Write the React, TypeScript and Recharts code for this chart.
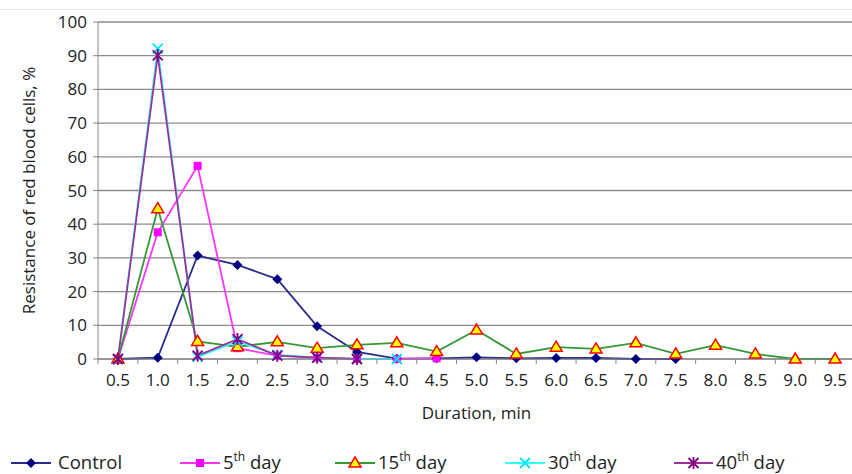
import { LineChart, Line, XAxis, YAxis, CartesianGrid } from 'recharts'

const durations = ['0.5', '1.0', '1.5', '2.0', '2.5', '3.0', '3.5', '4.0', '4.5', '5.0', '5.5', '6.0', '6.5', '7.0', '7.5', '8.0', '8.5', '9.0', '9.5']
const control = [0, 0.4, 30.7, 27.9, 23.7, 9.7, 2.1, 0.1, 0.2, 0.5, 0.2, 0.3, 0.3, 0, 0, null, null, null, null]
const day5 = [0, 37.6, 57.3, 3.2, 1, 0.4, 0, 0, 0.2, null, null, null, null, null, null, null, null, null, null]
const day15 = [0, 44.6, 5.2, 3.6, 5.1, 3.2, 4.2, 4.8, 2.2, 8.6, 1.5, 3.5, 3.0, 4.8, 1.5, 4.1, 1.5, 0, 0]
const day30 = [0, 92.1, 0.6, 5.2, 1.2, 0.4, 0, 0, null, null, null, null, null, null, null, null, null, null, null]
const day40 = [0, 90.1, 1, 5.9, 1, 0.4, 0, null, null, null, null, null, null, null, null, null, null, null, null]
const yTicks = [0, 10, 20, 30, 40, 50, 60, 70, 80, 90, 100]

const data = durations.map((d, i) => ({
  d,
  control: control[i],
  day5: day5[i],
  day15: day15[i],
  day30: day30[i],
  day40: day40[i],
}))

const FONT = '"Open Sans", "Noto Sans", sans-serif'
const W = 855
const H = 474
const YW = 98
const BAND = (W - YW) / durations.length

type Shape = 'diamond' | 'square' | 'triangle' | 'x' | 'star'

function Marker({ shape, cx, cy, color }: { shape: Shape; cx: number; cy: number; color: string }) {
  if (shape === 'diamond')
    return <path d={`M${cx},${cy - 5}L${cx + 5},${cy}L${cx},${cy + 5}L${cx - 5},${cy}Z`} fill={color} />
  if (shape === 'square')
    return <rect x={cx - 4} y={cy - 4} width={8} height={8} fill={color} />
  if (shape === 'triangle')
    return <path d={`M${cx},${cy - 6}L${cx + 6},${cy + 4}L${cx - 6},${cy + 4}Z`} fill="#ffff00" stroke="#ff0000" strokeWidth={1.5} />
  if (shape === 'x')
    return (
      <path d={`M${cx - 5},${cy - 5}L${cx + 5},${cy + 5}M${cx - 5},${cy + 5}L${cx + 5},${cy - 5}`} stroke={color} strokeWidth={1.8} />
    )
  return (
    <path
      d={`M${cx - 5},${cy - 5}L${cx + 5},${cy + 5}M${cx - 5},${cy + 5}L${cx + 5},${cy - 5}M${cx},${cy - 6}L${cx},${cy + 6}`}
      stroke={color}
      strokeWidth={1.8}
    />
  )
}

const dotFor = (shape: Shape, color: string) => (props: any) => {
  const { cx, cy, value, index } = props
  if (value == null || cy == null || isNaN(cy)) return <g key={index} />
  return (
    <g key={index}>
      <Marker shape={shape} cx={cx} cy={cy} color={color} />
    </g>
  )
}

const series = [
  { key: 'control', name: 'Control', sup: '', line: '#2b2b8c', mark: '#000080', shape: 'diamond' as Shape },
  { key: 'day5', name: '5', sup: 'th', line: '#ff33ff', mark: '#ff00ff', shape: 'square' as Shape },
  { key: 'day15', name: '15', sup: 'th', line: '#339933', mark: '#339933', shape: 'triangle' as Shape },
  { key: 'day30', name: '30', sup: 'th', line: '#33ffff', mark: '#00e5ff', shape: 'x' as Shape },
  { key: 'day40', name: '40', sup: 'th', line: '#993399', mark: '#800080', shape: 'star' as Shape },
]

// legend line start, line end, text start
const legendPos = [
  [11, 51, 58],
  [180, 220, 223],
  [335, 375, 378],
  [505, 545, 548],
  [674, 713, 716],
]

function XTick({ x, y, payload, index }: any) {
  const last = index === durations.length - 1
  return (
    <g>
      <line x1={x - BAND / 2} y1={y - 8} x2={x - BAND / 2} y2={y - 3} stroke="#888" />
      {last && <line x1={x + BAND / 2} y1={y - 8} x2={x + BAND / 2} y2={y - 3} stroke="#888" />}
      <text x={x} y={y + 19} textAnchor="middle" fontSize={17} fill="#222" fontFamily={FONT}>
        {payload.value}
      </text>
    </g>
  )
}

export default function App() {
  return (
    <div style={{ position: 'absolute', left: 0, top: 0, width: 852, height: H, overflow: 'hidden', background: '#fff', fontFamily: FONT }}>
      <div style={{ position: 'absolute', left: 0, top: 9, width: 852, height: 1, background: '#e6e6e6' }} />
      <LineChart width={W} height={H} data={data} margin={{ top: 22, right: 0, bottom: 55, left: 0 }}>
        <CartesianGrid vertical={false} stroke="#8a8a8a" strokeWidth={1.3} />
        <XAxis
          dataKey="d"
          height={60}
          stroke="#888"
          tickLine={false}
          tick={<XTick />}
          interval={0}
          padding={{ left: BAND / 2, right: BAND / 2 }}
          label={{ value: 'Duration, min', position: 'insideBottom', offset: 0, dy: 0, fontSize: 17, fill: '#222', fontFamily: FONT }}
        />
        <YAxis
          width={YW}
          domain={[0, 100]}
          ticks={yTicks}
          interval={0}
          stroke="#888"
          tickSize={5}
          tickMargin={6}
          tick={{ fontSize: 17, fill: '#222', fontFamily: FONT }}
          label={{ value: 'Resistance of red blood cells, %', angle: -90, position: 'insideLeft', dx: 24, fontSize: 17, fill: '#222', fontFamily: FONT, style: { textAnchor: 'middle' } }}
        />
        {series.map((s) => (
          <Line
            key={s.key}
            dataKey={s.key}
            stroke={s.line}
            strokeWidth={1.8}
            dot={dotFor(s.shape, s.mark)}
            activeDot={false}
            isAnimationActive={false}
            connectNulls={false}
          />
        ))}
      </LineChart>
      {series.map((s, i) => {
        const [l0, l1, t0] = legendPos[i]
        return (
          <div key={s.key} style={{ position: 'absolute', top: 450, left: l0, height: 24 }}>
            <svg width={l1 - l0} height={24} style={{ position: 'absolute', left: 0, top: 0 }}>
              <line x1={0} y1={13} x2={l1 - l0} y2={13} stroke={s.line} strokeWidth={1.8} />
              <Marker shape={s.shape} cx={(l1 - l0) / 2} cy={13} color={s.mark} />
            </svg>
            <span
              style={{ position: 'absolute', left: t0 - l0, top: 0, fontSize: 18.5, color: '#222', whiteSpace: 'nowrap', lineHeight: '24px' }}
            >
              {s.name}
              {s.sup && <sup style={{ fontSize: 12, verticalAlign: 'top', lineHeight: '14px' }}>{s.sup}</sup>}
              {s.sup && ' day'}
            </span>
          </div>
        )
      })}
    </div>
  )
}
